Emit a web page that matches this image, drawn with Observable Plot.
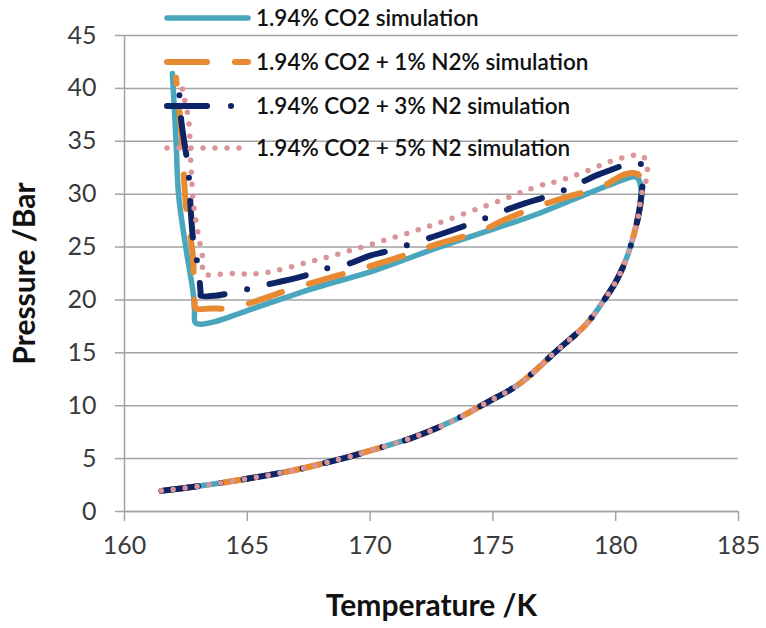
<!DOCTYPE html>
<html>
<head>
<meta charset="utf-8">
<script src="https://cdn.jsdelivr.net/npm/d3@7"></script>
<script src="https://cdn.jsdelivr.net/npm/@observablehq/plot@0.6"></script>
<style>
  html, body { margin: 0; padding: 0; background: #fff; }
  #chart { width: 766px; height: 628px; }
</style>
</head>
<body>
<div id="chart"></div>
<script>
// ---- data (Temperature K, Pressure Bar) ----
const seriesNames = [
  "1.94% CO2 simulation",
  "1.94% CO2 + 1% N2% simulation",
  "1.94% CO2 + 3% N2 simulation",
  "1.94% CO2 + 5% N2 simulation"
];
// shared lower (bubble) branch
const lowerBranch = [[161.5,1.95],[163.2,2.45],[165,3.1],[166.9,3.9],[168.7,4.9],[170,5.75],[171.75,7.0],[173.4,8.6],[174.75,10.3],[176.1,12.1],[177.6,15.2],[178.8,17.7],[179.5,19.9],[180.0,21.7],[180.45,24.0],[180.9,27.7],[181.05,30.0]];
const co2Upper = [[180.85,31.6],[179.9,31.0],[178.9,30.1],[176.9,28.2],[175.4,27.0],[172.7,24.9],[170.2,22.8],[167.7,21.1],[165,19.0],[163.6,17.9],[162.9,17.8],[162.85,19.0],[162.8,20.6],[162.5,24.9],[162.2,30],[162.1,35],[161.95,41.4]];
const n2_1Upper = [[181.05,31.0],[180.9,31.9],[180.4,31.9],[179.35,30.6],[178.1,29.8],[176.9,28.9],[175.4,27.5],[174.5,26.5],[172.9,25.4],[171.9,24.6],[170.3,23.4],[166.75,21.0],[165.1,19.7],[164.2,19.2],[163.5,19.2],[162.9,19.2],[162.85,19.9],[162.8,20.6],[162.8,23.7],[162.5,29],[162.4,32.5],[162.3,36.2],[162.1,41.0]];
const n2_3Upper = [[181.1,31.5],[181.0,32.9],[179.35,31.9],[178.5,31.0],[177.6,30.1],[176.0,28.9],[174.2,27.3],[172.6,26.0],[170.7,24.6],[170.0,24.2],[169.1,23.4],[168.1,22.9],[167.2,22.2],[165.5,21.3],[164.6,20.8],[163.7,20.4],[163.1,20.4],[163.1,20.6],[163.0,23.0],[162.8,25.6],[162.7,28.4],[162.6,32.2],[162.3,37.2],[162.2,41.3]];
const n2_5Upper = [[181.2,31.0],[181.3,32.0],[181.1,33.6],[180.2,33.4],[178.5,31.9],[177.6,31.2],[176.9,30.8],[175.4,29.5],[172.7,27.2],[170.1,25.3],[167.7,23.7],[165.5,22.5],[164.3,22.5],[163.2,22.5],[163.2,23.7],[163.0,26.2],[162.8,29.3],[162.7,33.1],[162.6,37.2],[162.4,39.4],[162.3,40.8]];
const xTicks = [160,165,170,175,180,185];
const yTicks = [0,5,10,15,20,25,30,35,40,45];

// ---- styles ----
const styles = [
  {stroke:"#4aa6bd", strokeWidth:5.5, dash:null},
  {stroke:"#e98a33", strokeWidth:6, dash:"35 28"},
  {stroke:"#0d2466", strokeWidth:6, dash:"37 23 0 23"},
  {stroke:"#d9959a", strokeWidth:5.5, dash:"0 12"}
];
const uppers = [co2Upper, n2_1Upper, n2_3Upper, n2_5Upper];
const rows = [];
uppers.forEach((u, i) => {
  lowerBranch.concat(u).forEach(([t, p]) => rows.push({series: seriesNames[i], t, p}));
});

const font = "Lato, 'Open Sans', sans-serif";
const grid = "#a3a3a3";

const lineMarks = seriesNames.map((name, i) => Plot.line(rows.filter(d => d.series === name), {
  x: "t", y: "p",
  curve: "catmull-rom",
  stroke: styles[i].stroke,
  strokeWidth: styles[i].strokeWidth,
  strokeDasharray: styles[i].dash,
  strokeLinecap: "round",
  strokeLinejoin: "round"
}));

const svg = Plot.plot({
  width: 766, height: 628,
  marginLeft: 124, marginRight: 28, marginTop: 35, marginBottom: 117,
  style: {fontFamily: font, background: "#fff", overflow: "visible"},
  x: {domain: [160, 185]},
  y: {domain: [0, 45]},
  marks: [
    Plot.gridY(yTicks, {stroke: grid, strokeOpacity: 1, strokeWidth: 1.5}),
    Plot.ruleX([160], {stroke: grid, strokeWidth: 1.5}),
    Plot.ruleY([0], {stroke: grid, strokeWidth: 1.5}),
    Plot.axisY(yTicks, {tickSize: 9, tickPadding: 19, fontSize: 25, stroke: grid, strokeWidth: 1.5, fill: "#3a3a3a", label: null, tickFormat: d => String(d)}),
    Plot.axisX(xTicks, {tickSize: 10, tickPadding: 15, fontSize: 25, stroke: grid, strokeWidth: 1.5, fill: "#3a3a3a", label: null, tickFormat: d => String(d)}),
    Plot.text(["Temperature /K"], {frameAnchor: "bottom", dy: 95, textAnchor: "middle", lineAnchor: "middle", fontSize: 30, fontWeight: "bold", fill: "#111", fontFamily: font}),
    Plot.text(["Pressure /Bar"], {frameAnchor: "left", dx: -99, textAnchor: "middle", lineAnchor: "middle", rotate: -90, fontSize: 30, fontWeight: "bold", fill: "#111", fontFamily: font}),
    ...lineMarks
  ]
});

// ---- legend (drawn into the svg, no background) ----
const legendY = [18, 62, 106, 148];
const lg = d3.select(svg).append("g").attr("class", "legend");
seriesNames.forEach((name, i) => {
  lg.append("line")
    .attr("x1", 167).attr("x2", 248)
    .attr("y1", legendY[i]).attr("y2", legendY[i])
    .attr("stroke", styles[i].stroke)
    .attr("stroke-width", styles[i].strokeWidth)
    .attr("stroke-dasharray", i === 1 ? "40 28" : i === 2 ? "40 24 0 30" : styles[i].dash)
    .attr("stroke-linecap", "round");
  lg.append("text")
    .attr("x", 256).attr("y", legendY[i])
    .attr("dy", "0.36em")
    .attr("text-anchor", "start")
    .attr("font-family", font)
    .attr("font-size", 22.5)
    .attr("font-weight", 600)
    .attr("fill", "#111")
    .text(name);
});
document.getElementById("chart").appendChild(svg);
</script>
</body>
</html>
